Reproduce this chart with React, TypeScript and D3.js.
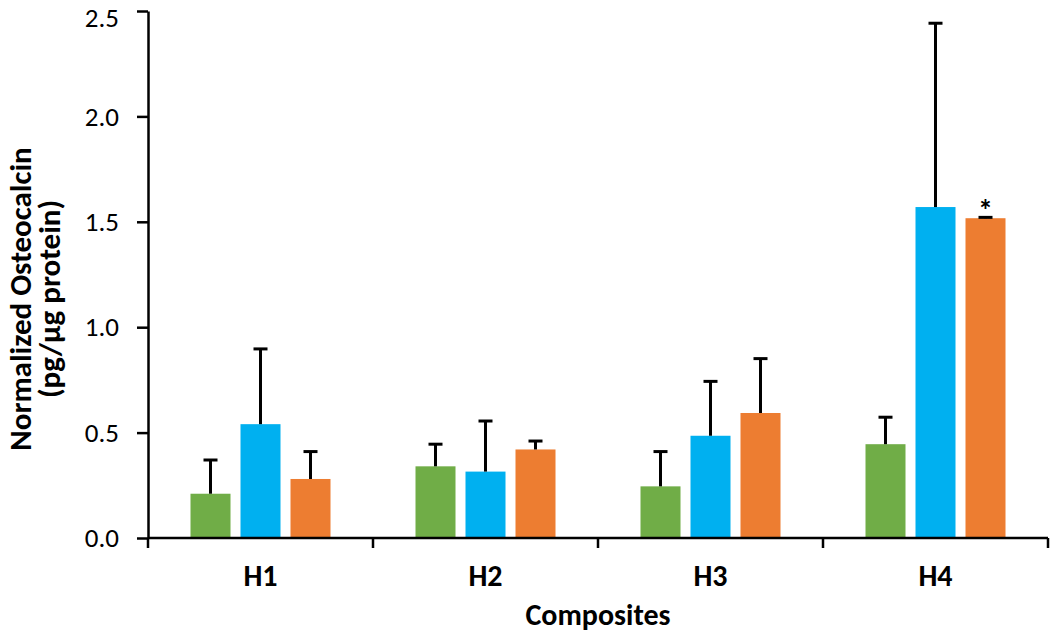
import React, { useEffect, useRef } from "react";
import * as d3 from "d3";

const categories = ["H1", "H2", "H3", "H4"];
const seriesNames = ["Group A", "Group B", "Group C"];
const seriesColors = ["#70AD47", "#00B0F0", "#ED7D31"];
const meansA = [0.21, 0.34, 0.245, 0.445];
const meansB = [0.54, 0.315, 0.485, 1.57];
const meansC = [0.28, 0.42, 0.593, 1.517];
const errA = [0.16, 0.105, 0.165, 0.128];
const errB = [0.357, 0.24, 0.258, 0.872];
const errC = [0.13, 0.04, 0.258, 0.004];
const yTicks = [0, 0.5, 1.0, 1.5, 2.0, 2.5];
const significant = [{ category: "H4", series: "Group C" }];

const font = "Carlito, Calibri, Lato, 'Open Sans', sans-serif";

const App = () => {
  const ref = useRef(null);

  useEffect(() => {
    const svg = d3.select(ref.current);
    svg.selectAll("*").remove();

    const x = d3.scaleBand().domain(categories).range([148, 1048]).padding(0);
    const groupWidth = 140;
    const offset = (x.bandwidth() - groupWidth) / 2;
    const x1 = d3
      .scaleBand()
      .domain(seriesNames)
      .range([offset, offset + groupWidth])
      .paddingInner(0.2)
      .paddingOuter(0);
    const y = d3.scaleLinear().domain([0, 2.5]).range([538, 11]);
    const color = d3.scaleOrdinal().domain(seriesNames).range(seriesColors);

    const means = [meansA, meansB, meansC];
    const errs = [errA, errB, errC];
    const rows = [];
    categories.forEach((c, i) => {
      seriesNames.forEach((s, j) => {
        rows.push({ c, s, v: means[j][i], e: errs[j][i] });
      });
    });

    // bars
    svg
      .append("g")
      .selectAll("rect")
      .data(rows)
      .enter()
      .append("rect")
      .attr("x", d => x(d.c) + x1(d.s))
      .attr("y", d => y(d.v))
      .attr("width", x1.bandwidth())
      .attr("height", d => y(0) - y(d.v))
      .attr("fill", d => color(d.s));

    // error bars (upper only)
    const eb = svg.append("g").attr("stroke", "#000").attr("stroke-width", 3);
    rows.forEach(d => {
      const cx = x(d.c) + x1(d.s) + x1.bandwidth() / 2;
      eb.append("line")
        .attr("x1", cx).attr("x2", cx)
        .attr("y1", y(d.v)).attr("y2", y(d.v + d.e));
      eb.append("line")
        .attr("x1", cx - 7).attr("x2", cx + 7)
        .attr("y1", y(d.v + d.e)).attr("y2", y(d.v + d.e));
    });

    // significance marks
    significant.forEach(m => {
      const i = categories.indexOf(m.category);
      const j = seriesNames.indexOf(m.series);
      const cx = x(m.category) + x1(m.series) + x1.bandwidth() / 2;
      svg.append("text")
        .attr("x", cx)
        .attr("y", y(means[j][i] + errs[j][i]) + 3)
        .attr("text-anchor", "middle")
        .style("font-family", font)
        .style("font-weight", "bold")
        .style("font-size", "30px")
        .text("*");
    });

    // y axis
    const yAxis = svg
      .append("g")
      .attr("transform", "translate(148,0)")
      .call(
        d3.axisLeft(y)
          .tickValues(yTicks)
          .tickFormat(d3.format(".1f"))
          .tickSize(11)
          .tickSizeOuter(0)
          .tickPadding(18)
      );
    yAxis.select(".domain").attr("stroke-width", 2.5);
    yAxis.selectAll(".tick line").attr("stroke-width", 2.5);
    yAxis.selectAll(".tick text")
      .style("font-family", font)
      .style("font-size", "27px")
      .attr("fill", "#000")
      // keep the top label inside the picture
      .attr("dy", d => (d === 2.5 ? "0.58em" : "0.32em"));

    // x axis
    const xa = svg.append("g").attr("stroke", "#000").attr("stroke-width", 2.5);
    xa.append("line")
      .attr("x1", x.range()[0]).attr("x2", x.range()[1])
      .attr("y1", y(0)).attr("y2", y(0));
    const bounds = categories.map(c => x(c)).concat([x.range()[1]]);
    bounds.forEach(b => {
      xa.append("line")
        .attr("x1", b).attr("x2", b)
        .attr("y1", y(0)).attr("y2", y(0) + 10);
    });
    svg.append("g")
      .selectAll("text")
      .data(categories)
      .enter()
      .append("text")
      .attr("x", c => x(c) + x.bandwidth() / 2)
      .attr("y", 586)
      .attr("text-anchor", "middle")
      .style("font-family", font)
      .style("font-weight", "bold")
      .style("font-size", "30px")
      .text(c => c);

    svg.append("text")
      .attr("x", (x.range()[0] + x.range()[1]) / 2)
      .attr("y", 625)
      .attr("text-anchor", "middle")
      .style("font-family", font)
      .style("font-weight", "bold")
      .style("font-size", "30px")
      .text("Composites");

    // y title
    const yt = svg.append("text")
      .attr("transform", "translate(30.5,299) rotate(-90)")
      .attr("text-anchor", "middle")
      .style("font-family", font)
      .style("font-weight", "bold")
      .style("font-size", "31px");
    yt.append("tspan").attr("x", 0).attr("y", 0).text("Normalized Osteocalcin");
    yt.append("tspan").attr("x", 0).attr("y", 29).text("(pg/µg protein)");
  }, []);

  return (
    <div style={{ position: "absolute", left: 0, top: 0 }}>
      <svg ref={ref} width={1050} height={633} style={{ display: "block", background: "#fff" }} />
    </div>
  );
};

export default App;
